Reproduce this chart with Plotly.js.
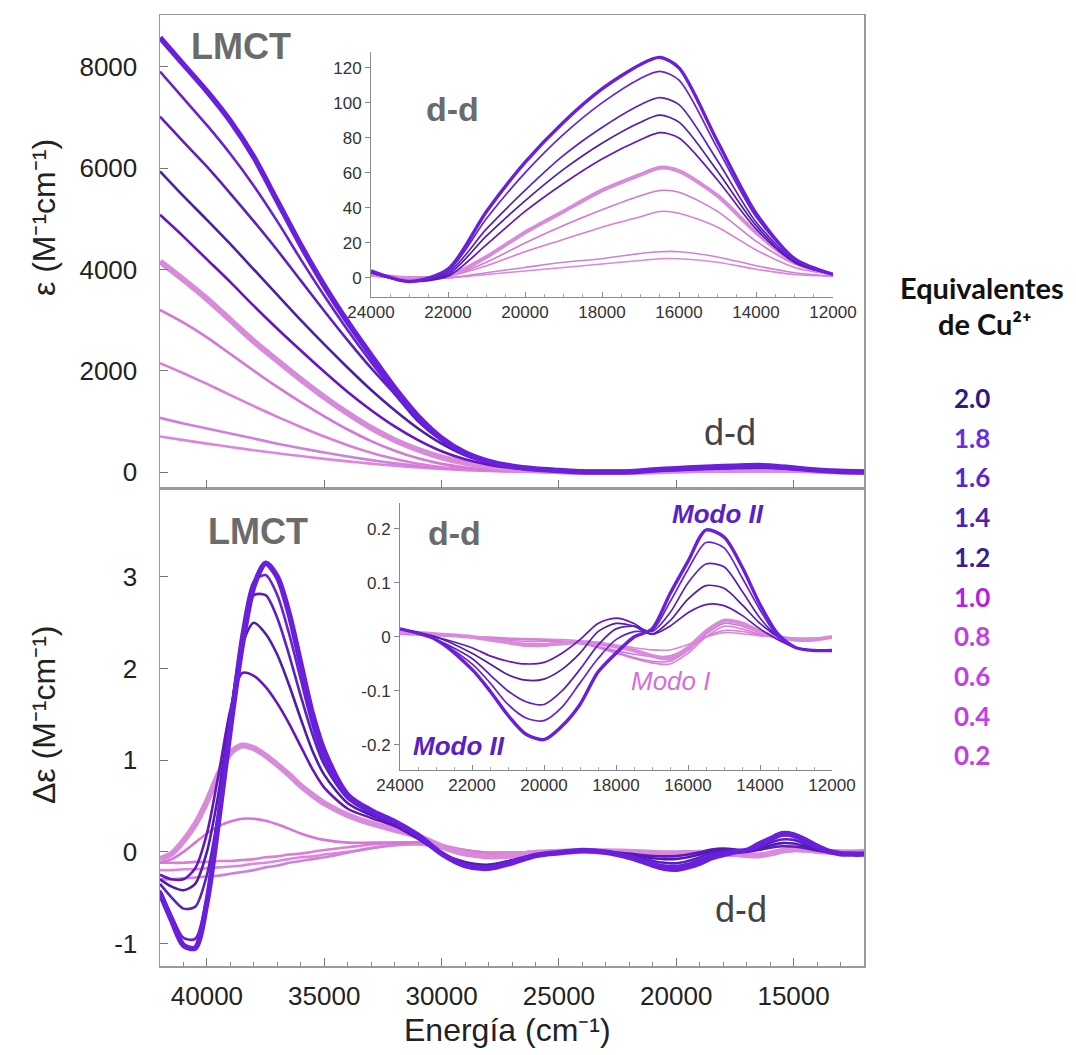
<!DOCTYPE html>
<html>
<head>
<meta charset="utf-8">
<script src="https://cdn.plot.ly/plotly-3.0.1.min.js"></script>
<style>html,body{margin:0;padding:0;background:#fff;}#chart{width:1076px;height:1055px;}</style>
</head>
<body>
<div id="chart"></div>
<script>
// ---------------- DATA ----------------
const equivalents = ['2.0','1.8','1.6','1.4','1.2','1.0','0.8','0.6','0.4','0.2'];

// Absorption, LMCT region (cm-1)
const E_absUV = [42000,41000,40000,39000,38000,37000,36000,35000,34000,33000,32000,31000,30000,29000,28000,27000,26000,25000];
const absUV_20 = [8580,8050,7520,6930,6220,5350,4480,3680,2960,2300,1660,1100,670,380,210,115,60,30];
const absUV_18 = [7910,7380,6850,6280,5650,4950,4200,3480,2800,2170,1580,1060,640,360,200,110,58,30];
const absUV_16 = [7020,6520,6030,5500,4950,4380,3780,3180,2600,2050,1540,1000,620,350,195,105,55,30];
const absUV_14 = [5940,5450,4980,4500,4000,3500,3000,2520,2060,1620,1220,860,560,330,185,100,55,28];
const absUV_12 = [5080,4650,4200,3750,3280,2830,2400,1980,1580,1220,900,630,410,250,145,80,45,25];
const absUV_10 = [4160,3800,3420,3000,2580,2200,1830,1480,1160,870,630,440,290,180,110,60,30,15];
const absUV_08 = [3200,2950,2660,2330,2000,1680,1380,1100,840,610,420,270,160,90,50,28,15,8];
const absUV_06 = [2150,1950,1740,1520,1300,1090,890,700,530,380,260,160,95,55,30,18,10,5];
const absUV_04 = [1070,960,860,760,660,560,470,385,305,235,170,115,75,45,25,15,10,5];
const absUV_02 = [700,630,560,495,430,370,315,260,210,165,125,90,60,38,22,12,8,5];

// Absorption, d-d region (inset)
const E_absDD = [24000,23000,22000,21000,20000,19000,18000,17000,16500,16000,15000,14000,13000,12000];
const absDD_20 = [4,-2,5,38,66,89,108,122,126,120,78,37,11,2];
const absDD_18 = [3,-2,4,34,60,82,100,114,118,113,74,35,11,2];
const absDD_16 = [3,-2,3,28,50,70,86,99,103,99,67,32,10,2];
const absDD_14 = [3,-2,2,24,44,62,77,89,93,89,61,30,9,2];
const absDD_12 = [3,-2,1,19,38,54,68,79,83,80,56,28,9,2];
const absDD_10 = [2,0,1,12,26,38,50,59,63,61,47,26,9,2];
const absDD_08 = [2,0,1,9,20,30,39,47,50,49,38,21,8,2];
const absDD_06 = [2,0,1,7,15,22,29,35,38,37,29,16,6,2];
const absDD_04 = [1,0,0,3,6,9,11,14,15,15,12,7,3,1];
const absDD_02 = [1,0,0,2,4,6,8,10,11,11,9,5,2,1];

// CD, LMCT region
const E_cdUV = [42000,41500,41000,40500,40000,39500,39000,38500,38000,37500,37000,36500,36000,35500,35000,34000,33000,32000,31000,30000,29000,28000,27000,26000,25000];
const cdUV_20 = [-0.45,-0.75,-1.02,-1.05,-0.55,0.35,1.35,2.25,2.9,3.15,3.0,2.6,2.05,1.5,1.1,0.62,0.45,0.33,0.18,-0.02,-0.15,-0.18,-0.12,-0.04,-0.01];
const cdUV_18 = [-0.42,-0.7,-0.94,-0.95,-0.5,0.4,1.45,2.4,2.95,3.02,2.8,2.38,1.88,1.38,1.0,0.6,0.43,0.32,0.17,-0.02,-0.14,-0.17,-0.11,-0.04,-0.01];
const cdUV_16 = [-0.35,-0.5,-0.62,-0.6,-0.25,0.45,1.4,2.3,2.8,2.8,2.55,2.15,1.7,1.28,0.95,0.58,0.42,0.31,0.16,-0.02,-0.13,-0.16,-0.1,-0.04,-0.01];
const cdUV_14 = [-0.3,-0.38,-0.42,-0.35,0.0,0.65,1.5,2.25,2.5,2.38,2.15,1.82,1.45,1.1,0.84,0.53,0.4,0.3,0.15,-0.02,-0.12,-0.15,-0.1,-0.04,-0.01];
const cdUV_12 = [-0.25,-0.3,-0.3,-0.18,0.2,0.85,1.55,1.95,1.92,1.8,1.62,1.4,1.15,0.9,0.7,0.47,0.37,0.28,0.14,-0.02,-0.11,-0.14,-0.09,-0.03,0.0];
const cdUV_10 = [-0.08,-0.02,0.12,0.3,0.55,0.85,1.08,1.16,1.13,1.05,0.95,0.84,0.72,0.62,0.53,0.4,0.31,0.24,0.17,0.06,-0.02,-0.05,-0.04,-0.01,0.0];
const cdUV_08 = [-0.12,-0.08,0.0,0.1,0.2,0.28,0.33,0.36,0.36,0.34,0.3,0.25,0.2,0.16,0.13,0.1,0.1,0.1,0.1,0.05,0.0,-0.03,-0.02,0.0,0.0];
const cdUV_06 = [-0.12,-0.12,-0.12,-0.11,-0.11,-0.1,-0.1,-0.09,-0.08,-0.06,-0.05,-0.03,-0.02,0.0,0.02,0.05,0.08,0.1,0.1,0.06,0.02,-0.01,-0.01,0.0,0.0];
const cdUV_04 = [-0.3,-0.3,-0.29,-0.28,-0.27,-0.26,-0.24,-0.22,-0.2,-0.17,-0.15,-0.12,-0.1,-0.08,-0.06,-0.01,0.04,0.08,0.1,0.07,0.02,-0.01,-0.01,0.0,0.0];
const cdUV_02 = [-0.2,-0.2,-0.19,-0.19,-0.18,-0.17,-0.16,-0.15,-0.13,-0.12,-0.1,-0.08,-0.06,-0.05,-0.03,0.0,0.04,0.07,0.08,0.05,0.01,-0.01,-0.01,0.0,0.0];

// CD, d-d region (inset)
const E_cdDD = [24000,23000,22000,21500,21000,20500,20000,19500,19000,18500,18000,17500,17000,16500,16000,15500,15000,14500,14000,13500,13000,12500,12000];
const cdDD_20 = [0.015,-0.005,-0.06,-0.1,-0.145,-0.18,-0.19,-0.165,-0.125,-0.065,-0.03,0.0,0.015,0.08,0.14,0.198,0.185,0.13,0.06,0.005,-0.02,-0.025,-0.025];
const cdDD_18 = [0.015,-0.005,-0.05,-0.085,-0.125,-0.15,-0.155,-0.13,-0.085,-0.04,-0.005,0.01,0.012,0.065,0.125,0.175,0.165,0.11,0.05,0.0,-0.02,-0.025,-0.025];
const cdDD_16 = [0.015,-0.005,-0.04,-0.07,-0.1,-0.12,-0.125,-0.1,-0.06,-0.015,0.015,0.02,0.01,0.045,0.1,0.135,0.13,0.085,0.035,0.0,-0.02,-0.025,-0.025];
const cdDD_14 = [0.015,0.0,-0.03,-0.05,-0.07,-0.08,-0.078,-0.06,-0.03,0.01,0.025,0.02,0.005,0.03,0.07,0.095,0.09,0.06,0.025,0.0,-0.02,-0.025,-0.025];
const cdDD_12 = [0.015,0.0,-0.02,-0.035,-0.045,-0.05,-0.047,-0.03,-0.005,0.025,0.035,0.025,0.005,0.02,0.045,0.06,0.058,0.04,0.015,-0.005,-0.02,-0.025,-0.025];
const cdDD_10 = [0.01,0.005,0.0,-0.005,-0.01,-0.015,-0.015,-0.012,-0.01,-0.012,-0.018,-0.025,-0.035,-0.04,-0.02,0.01,0.03,0.025,0.01,0.0,-0.005,-0.005,0.0];
const cdDD_08 = [0.01,0.005,0.0,-0.005,-0.01,-0.012,-0.012,-0.01,-0.012,-0.018,-0.028,-0.038,-0.045,-0.045,-0.025,0.005,0.025,0.02,0.008,0.0,-0.005,-0.005,0.0];
const cdDD_06 = [0.01,0.005,0.0,-0.003,-0.006,-0.008,-0.008,-0.008,-0.012,-0.02,-0.03,-0.04,-0.048,-0.05,-0.03,0.0,0.02,0.015,0.005,0.0,-0.005,-0.005,0.0];
const cdDD_04 = [0.005,0.003,0.0,-0.002,-0.004,-0.005,-0.006,-0.008,-0.012,-0.018,-0.025,-0.032,-0.036,-0.035,-0.02,0.0,0.012,0.01,0.004,0.0,-0.003,-0.003,0.0];
const cdDD_02 = [0.005,0.003,0.0,0.0,-0.002,-0.003,-0.004,-0.005,-0.007,-0.01,-0.015,-0.02,-0.024,-0.024,-0.014,0.0,0.008,0.006,0.002,0.0,-0.002,-0.002,0.0];

// Tick labels
const mainXTicks = [40000,35000,30000,25000,20000,15000];
const mainXTickText = ['40000','35000','30000','25000','20000','15000'];
const absYTicks = [0,2000,4000,6000,8000];
const absYTickText = ['0','2000','4000','6000','8000'];
const cdYTicks = [-1,0,1,2,3];
const cdYTickText = ['-1','0','1','2','3'];
const insetXTicks = [24000,22000,20000,18000,16000,14000,12000];
const insetXTickText = ['24000','22000','20000','18000','16000','14000','12000'];
const absInsetYTicks = [0,20,40,60,80,100,120];
const absInsetYTickText = ['0','20','40','60','80','100','120'];
const cdInsetYTicks = [-0.2,-0.1,0,0.1,0.2];
const cdInsetYTickText = ['-0.2','-0.1','0','0.1','0.2'];

// ---------------- STYLE ----------------
const absUV = [absUV_20,absUV_18,absUV_16,absUV_14,absUV_12,absUV_10,absUV_08,absUV_06,absUV_04,absUV_02];
const absDD = [absDD_20,absDD_18,absDD_16,absDD_14,absDD_12,absDD_10,absDD_08,absDD_06,absDD_04,absDD_02];
const cdUV = [cdUV_20,cdUV_18,cdUV_16,cdUV_14,cdUV_12,cdUV_10,cdUV_08,cdUV_06,cdUV_04,cdUV_02];
const cdDD = [cdDD_20,cdDD_18,cdDD_16,cdDD_14,cdDD_12,cdDD_10,cdDD_08,cdDD_06,cdDD_04,cdDD_02];

const lineColors = ['#6a1fdc','#6622d4','#5a20c6','#4d1eac','#6516c2','#d98bdb','#d676d9','#de7cd6','#cf80df','#dc86dc'];
const mainWidths = [5.5,2.6,2.6,2.6,2.6,6,2.6,2.6,2.6,2.6];
const insetWidths = [3.4,1.7,1.7,1.7,1.7,4,1.6,1.6,1.6,1.6];
const legendColors = ['#2e1a86','#6a2ee0','#5a26d2','#4a22b4','#3e1c98','#b61ee2','#c23ee6','#c23ee6','#c23ee6','#c23ee6'];

const traces = [];
function line(x, y, xa, ya, color, width) {
  traces.push({x: x, y: y, type: 'scatter', mode: 'lines', xaxis: xa, yaxis: ya,
    line: {color: color, width: width, shape: 'spline', smoothing: 0.8},
    hoverinfo: 'skip', showlegend: false});
}
// draw from lowest (0.2) to highest (2.0) so dark curves lie on top
for (let k = equivalents.length - 1; k >= 0; k--) {
  line(E_absUV.concat(E_absDD), absUV[k].concat(absDD[k]), 'x2', 'y2', lineColors[k], mainWidths[k]);
  line(E_cdUV.concat(E_cdDD), cdUV[k].concat(cdDD[k]), 'x', 'y', lineColors[k], mainWidths[k]);
}
for (let k = equivalents.length - 1; k >= 0; k--) {
  line(E_absDD, absDD[k], 'x3', 'y3', lineColors[k], insetWidths[k]);
  line(E_cdDD, cdDD[k], 'x4', 'y4', lineColors[k], insetWidths[k]);
}

// ---------------- LAYOUT ----------------
const L = 160, T = 15, W = 704, H = 951;
function px(x, y) { return {x: (x - L) / W, y: (T + H - y) / H}; }
const split = (966 - 488) / H;
const FONT = 'Liberation Sans, Arial, sans-serif';
const tickFontMain = {family: FONT, size: 26, color: '#222'};
const tickFontInset = {family: FONT, size: 17, color: '#333'};
const frame = {showline: true, linecolor: '#9a9a9a', linewidth: 1.5, mirror: true, showgrid: false, zeroline: false};

const mainX = Object.assign({}, frame, {range: [42000, 12000], tickmode: 'array', tickvals: mainXTicks,
  ticks: 'inside', ticklen: 8, tickcolor: '#777', tickwidth: 1});

const layout = {
  width: 1076, height: 1055,
  margin: {l: L, r: 1076 - L - W, t: T, b: 1055 - T - H},
  paper_bgcolor: '#ffffff', plot_bgcolor: 'rgba(0,0,0,0)',
  showlegend: false,
  xaxis: Object.assign({}, mainX, {domain: [0, 1], anchor: 'y', ticktext: mainXTickText, tickfont: tickFontMain, ticklabelstandoff: 6,
    minor: {tickmode: 'linear', tick0: 0, dtick: 1000, ticks: 'inside', ticklen: 4, tickcolor: '#888'}}),
  yaxis: Object.assign({}, frame, {domain: [0, split], anchor: 'x', range: [-1.246, 3.97], tickmode: 'array',
    tickvals: cdYTicks, ticktext: cdYTickText, ticks: 'inside', ticklen: 8, tickcolor: '#777', tickfont: tickFontMain, ticklabelstandoff: 16}),
  xaxis2: Object.assign({}, mainX, {domain: [0, 1], anchor: 'y2', showticklabels: false}),
  yaxis2: Object.assign({}, frame, {domain: [split, 1], anchor: 'x2', range: [-316, 9027], tickmode: 'array',
    tickvals: absYTicks, ticktext: absYTickText, ticks: 'inside', ticklen: 8, tickcolor: '#777', tickfont: tickFontMain, ticklabelstandoff: 16}),
  xaxis3: {domain: [px(371,0).x, px(833,0).x], anchor: 'y3', range: [24000, 12000], showline: true, linecolor: '#8a8a8a', linewidth: 1,
    showgrid: false, zeroline: false, tickmode: 'array', tickvals: insetXTicks, ticktext: insetXTickText,
    ticks: 'inside', ticklen: 5, tickcolor: '#888', tickfont: tickFontInset,
    minor: {tickmode: 'linear', tick0: 0, dtick: 500, ticks: 'inside', ticklen: 3, tickcolor: '#aaa'}},
  yaxis3: {domain: [px(0,297).y, px(0,52).y], anchor: 'x3', range: [-10.9, 129.1], showline: true, linecolor: '#8a8a8a', linewidth: 1,
    showgrid: false, zeroline: false, tickmode: 'array', tickvals: absInsetYTicks, ticktext: absInsetYTickText,
    ticks: 'outside', ticklen: 5, tickcolor: '#888', tickfont: tickFontInset},
  xaxis4: {domain: [px(400,0).x, px(832,0).x], anchor: 'y4', range: [24000, 12000], showline: true, linecolor: '#8a8a8a', linewidth: 1,
    showgrid: false, zeroline: false, tickmode: 'array', tickvals: insetXTicks, ticktext: insetXTickText,
    ticks: 'inside', ticklen: 5, tickcolor: '#888', tickfont: tickFontInset,
    minor: {tickmode: 'linear', tick0: 0, dtick: 500, ticks: 'inside', ticklen: 3, tickcolor: '#aaa'}},
  yaxis4: {domain: [px(0,770).y, px(0,503).y], anchor: 'x4', range: [-0.2463, 0.248], showline: true, linecolor: '#8a8a8a', linewidth: 1,
    showgrid: false, zeroline: false, tickmode: 'array', tickvals: cdInsetYTicks, ticktext: cdInsetYTickText,
    ticks: 'outside', ticklen: 5, tickcolor: '#888', tickfont: tickFontInset},
  annotations: []
};

function note(text, x, y, font, extra) {
  const p = px(x, y);
  layout.annotations.push(Object.assign({text: text, x: p.x, y: p.y, xref: 'paper', yref: 'paper',
    xanchor: 'center', yanchor: 'middle', showarrow: false, font: font}, extra || {}));
}
// axis titles
note('Energía (cm⁻¹)', 507, 1030, {family: FONT, size: 32, color: '#222'});
note('ε (M⁻¹cm⁻¹)', 44, 218, {family: FONT, size: 32, color: '#222'}, {textangle: -90});
note('Δε (M⁻¹cm⁻¹)', 44, 715, {family: FONT, size: 32, color: '#222'}, {textangle: -90});
// panel labels
const boldGray = {family: FONT, size: 36, color: '#6b6b6b', weight: 'bold'};
note('LMCT', 241, 46, boldGray);
note('LMCT', 258, 531, boldGray);
note('d-d', 452, 109, {family: FONT, size: 34, color: '#6b6b6b', weight: 'bold'});
note('d-d', 454, 533, {family: FONT, size: 34, color: '#6b6b6b', weight: 'bold'});
note('d-d', 730, 432, {family: 'Liberation Sans Narrow, ' + FONT, size: 36, color: '#444'});
note('d-d', 741, 909, {family: 'Liberation Sans Narrow, ' + FONT, size: 36, color: '#444'});
note('Modo II', 718, 514, {family: FONT, size: 26, color: '#5b1fc8', weight: 'bold', style: 'italic'});
note('Modo II', 459, 746, {family: FONT, size: 26, color: '#5b1fc8', weight: 'bold', style: 'italic'});
note('Modo I', 671, 681, {family: FONT, size: 26, color: '#d56fd8', style: 'italic'});
// legend
const LEG_FONT = 'Lato, Open Sans, sans-serif';
note('Equivalentes', 982, 287, {family: LEG_FONT, size: 29, color: '#111', weight: 'bold'});
note('de Cu²⁺', 985, 323, {family: LEG_FONT, size: 29, color: '#111', weight: 'bold'});
for (let i = 0; i < equivalents.length; i++) {
  note(equivalents[i], 972, 398 + i * 39.7, {family: LEG_FONT, size: 26, color: legendColors[i], weight: 'bold'});
}

Plotly.newPlot('chart', traces, layout, {staticPlot: true, displayModeBar: false});
</script>
</body>
</html>
